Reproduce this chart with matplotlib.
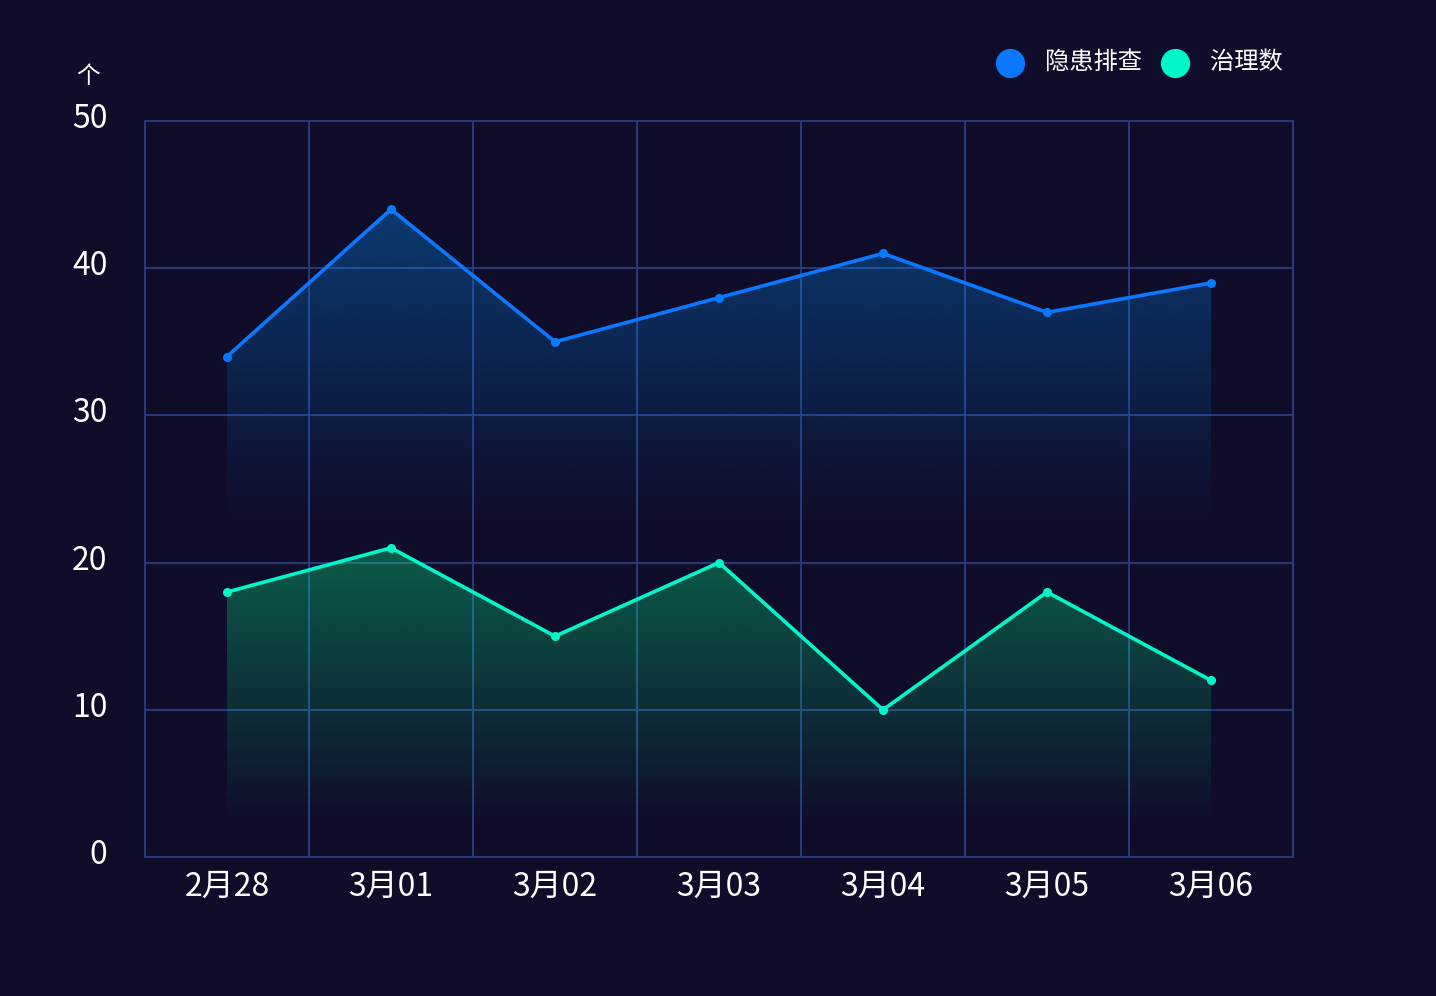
import numpy as np
import matplotlib.pyplot as plt
import matplotlib.transforms as mtransforms
from matplotlib.patches import Polygon
from matplotlib.lines import Line2D

plt.rcParams['font.family'] = ['Noto Sans CJK SC', 'DejaVu Sans']

# 数据
categories = ['2月28', '3月01', '3月02', '3月03', '3月04', '3月05', '3月06']
hidden_check = [34, 44, 35, 38, 41, 37, 39]   # 隐患排查
governed = [18, 21, 15, 20, 10, 18, 12]       # 治理数
series_names = ['隐患排查', '治理数']
y_ticks = [0, 10, 20, 30, 40, 50]

BG = '#100d2a'
GRID = '#27387a'
BLUE = '#0a78ff'
GREEN = '#00f7c8'
BLUE_FILL = '#0096ff'
GREEN_FILL = '#00ff8c'


def gradient_area(ax, x, y, color, a0, y_fade):
    """线下方的渐变填充"""
    rgb = np.array(plt.matplotlib.colors.to_rgb(color))
    ys = np.linspace(0, 50, 400)
    top = max(y)
    alpha = np.clip((ys - y_fade) / (top - y_fade), 0, 1) * a0
    img = np.zeros((len(ys), 1, 4))
    img[:, 0, :3] = rgb
    img[:, 0, 3] = alpha
    verts = [(x[0], 0)] + list(zip(x, y)) + [(x[-1], 0)]
    poly = Polygon(verts, closed=True, facecolor='none', edgecolor='none',
                   transform=ax.transData)
    ax.add_patch(poly)
    im = ax.imshow(img, extent=[-0.5, 6.5, 0, 50], origin='lower',
                   aspect='auto', zorder=2, interpolation='bilinear')
    im.set_clip_path(poly)


fig = plt.figure(figsize=(14.36, 9.96), dpi=100, facecolor=BG)
ax = fig.add_axes([145 / 1436, 1 - 857 / 996, 1148 / 1436, 736 / 996])
ax.set_facecolor(BG)

x = np.arange(len(categories))

gradient_area(ax, x, hidden_check, BLUE_FILL, 0.33, 22.5)
gradient_area(ax, x, governed, GREEN_FILL, 0.33, 2.0)

ax.plot(x, hidden_check, color=BLUE, lw=2.6, marker='o', ms=5.5, zorder=4)
ax.plot(x, governed, color=GREEN, lw=2.6, marker='o', ms=5.5, zorder=4)

ax.set_xlim(-0.5, 6.5)
ax.set_ylim(0, 50)
ax.set_xticks(x)
ax.set_xticklabels(categories)
ax.set_xticks(np.arange(0.5, 6, 1), minor=True)
ax.set_yticks(y_ticks)

ax.grid(True, axis='y', which='major', color=GRID, lw=1.5, zorder=1)
ax.grid(True, axis='x', which='minor', color=GRID, lw=1.5, zorder=1)
ax.set_axisbelow(True)
for s in ax.spines.values():
    s.set_color(GRID)
    s.set_linewidth(1.5)

ax.tick_params(axis='both', which='both', length=0, colors='white', labelsize=23)
ax.tick_params(axis='y', pad=27)
ax.tick_params(axis='x', pad=10)
# y轴标签略微上移
shift = mtransforms.ScaledTranslation(0, 4 / 72, fig.dpi_scale_trans)
for lbl in ax.get_yticklabels():
    lbl.set_transform(lbl.get_transform() + shift)

# 单位
fig.text(88 / 1436, 1 - 76 / 996, '个', color='white', fontsize=17,
         ha='center', va='center')

# 图例
for cx, tx, name, c in [(1010, 1045, series_names[0], BLUE),
                        (1175, 1210, series_names[1], GREEN)]:
    fig.add_artist(Line2D([cx / 1436], [1 - 63 / 996], marker='o', ms=20,
                          color=c, transform=fig.transFigure))
    fig.text(tx / 1436, 1 - 62 / 996, name, color='white', fontsize=17.5,
             ha='left', va='center')

fig.savefig('out.png', dpi=100, facecolor=BG)
